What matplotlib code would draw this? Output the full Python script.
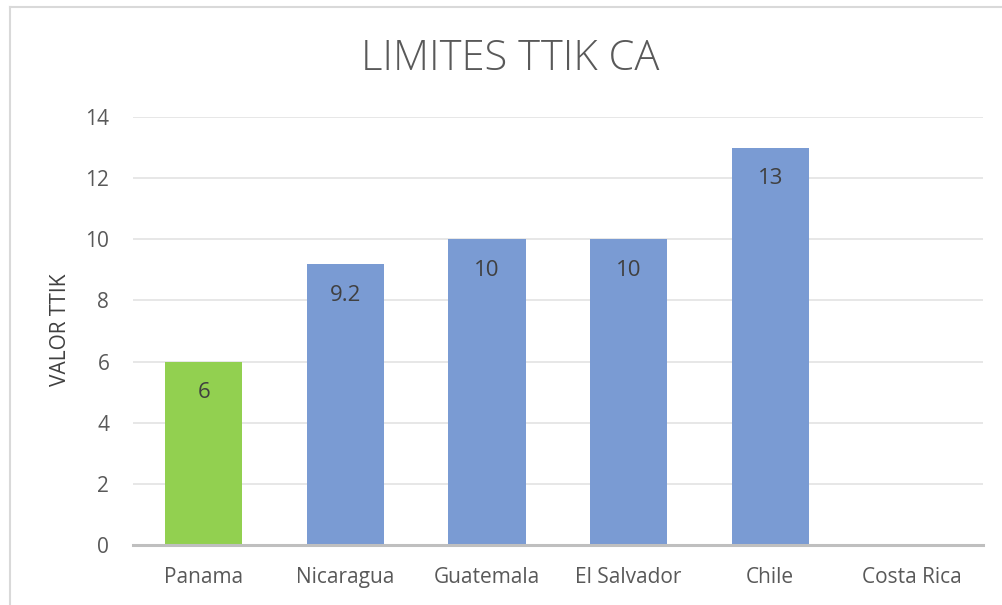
import matplotlib.pyplot as plt
import numpy as np
from matplotlib.lines import Line2D

# Data (Costa Rica has no value shown)
countries = ["Panama", "Nicaragua", "Guatemala", "El Salvador", "Chile", "Costa Rica"]
ttik_values = [6, 9.2, 10, 10, 13, np.nan]
bar_colors = ["#92D050", "#7A9BD3", "#7A9BD3", "#7A9BD3", "#7A9BD3", "#7A9BD3"]
y_ticks = [0, 2, 4, 6, 8, 10, 12, 14]

plt.rcParams["font.family"] = ["Open Sans", "DejaVu Sans"]

fig = plt.figure(figsize=(10.02, 6.05), dpi=100)
ax = fig.add_axes([0.1327, 0.0992, 0.848, 0.7074])

x = np.arange(len(countries))
ax.bar(x, ttik_values, width=0.545, color=bar_colors, zorder=3)

# value labels inside the top of each bar
for xi, val in zip(x, ttik_values):
    if np.isnan(val):
        continue
    ax.annotate(f"{val:g}", (xi, val), xytext=(0, -15), textcoords="offset points",
                ha="center", va="top", fontsize=16, color="#404040", zorder=4)

ax.set_xlim(-0.5, len(countries) - 0.5)
ax.set_ylim(0, 14)
ax.set_yticks(y_ticks)
ax.set_xticks(x)
ax.set_xticklabels(countries)
ax.tick_params(axis="both", length=0, labelsize=15, labelcolor="#595959")
ax.tick_params(axis="y", pad=17)
ax.tick_params(axis="x", pad=16)

ax.grid(axis="y", color="#E3E3E3", linewidth=1.2, zorder=0)
for side in ["top", "right", "left"]:
    ax.spines[side].set_visible(False)
ax.spines["bottom"].set_color("#BFBFBF")
ax.spines["bottom"].set_linewidth(2.2)
ax.spines["bottom"].set_zorder(5)

fig.text(60 / 1002, 1 - 330 / 605, "VALOR TTIK", rotation=90, ha="center", va="center",
         fontsize=15, color="#404040")
fig.text(0.509, 1 - 59 / 605, "LIMITES TTIK CA", ha="center", va="center",
         fontsize=30, color="#595959", fontweight="light")

# light frame of the chart area
fig.add_artist(Line2D([10 / 1002, 10 / 1002], [0, 1 - 7 / 605], color="#D9D9D9", lw=1.5))
fig.add_artist(Line2D([10 / 1002, 1], [1 - 7 / 605, 1 - 7 / 605], color="#D9D9D9", lw=1.5))

fig.savefig("out.png", dpi=100, facecolor="white")
